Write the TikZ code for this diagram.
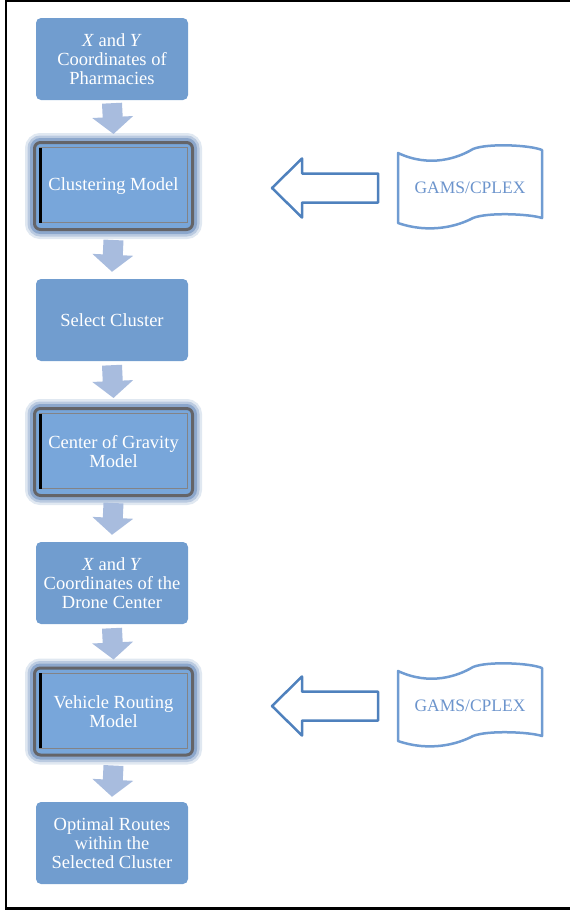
\documentclass[tikz,border=0pt]{standalone}
\usepackage{fontspec}
\setmainfont{Liberation Serif}
\usetikzlibrary{arrows.meta}

\definecolor{boxblue}{RGB}{113,157,207}
\definecolor{innerblue}{RGB}{120,166,218}
\definecolor{framegray}{RGB}{100,100,104}
\definecolor{glowblue}{RGB}{85,125,180}
\definecolor{arrowgray}{RGB}{168,188,222}
\definecolor{lineblue}{RGB}{79,129,189}
\definecolor{docblue}{RGB}{112,156,210}
\definecolor{gamsblue}{RGB}{108,148,204}

\tikzset{
  boxtext/.style={text=white, align=center, font=\fontsize{18.5}{19}\selectfont},
  plainbox/.style={boxtext, fill=boxblue, rounded corners=5pt,
    minimum width=152pt, minimum height=82pt, inner sep=2pt},
  modelbox/.style={boxtext, fill=innerblue, draw=framegray, line width=3pt,
    rounded corners=6pt, minimum width=158pt, minimum height=87pt, inner sep=2pt,
    preaction={draw=glowblue, line width=19pt, draw opacity=0.18},
    preaction={draw=glowblue, line width=14pt, draw opacity=0.28},
    preaction={draw=glowblue, line width=9pt, draw opacity=0.45},
    path picture={
      \draw[sharp corners, line width=1pt, framegray!80]
        ([shift={(5pt,-5pt)}]path picture bounding box.north west) rectangle
        ([shift={(-5pt,7pt)}]path picture bounding box.south east);
      \draw[line width=3pt, black]
        ([shift={(6pt,-5pt)}]path picture bounding box.north west) --
        ([shift={(6pt,7pt)}]path picture bounding box.south west);
    }},
  downarrow/.style={arrowgray, line width=20pt, -{Triangle[width=40pt,length=17pt]}},
  hollowarrow/.style={draw=lineblue, line width=2.5pt, line join=round},
  wavebox/.style={draw=docblue, line width=2.5pt, line join=round},
  gamstext/.style={text=gamsblue, font=\fontsize{17.5}{19}\selectfont}
}

\begin{document}
\begin{tikzpicture}[x=1pt,y=-1pt]
  \useasboundingbox (0,0) rectangle (570,910);
  \draw[line width=2.2pt] (590,1) -- (6,1) -- (6,908.5) -- (590,908.5);

  % main chain
  \node[plainbox] (coords) at (112,59) {\textit{X} and \textit{Y}\\Coordinates of\\Pharmacies};
  \node[modelbox] (cluster) at (113.5,186) {Clustering Model};
  \node[plainbox] (select) at (112,320) {Select Cluster};
  \node[modelbox] (gravity) at (113.5,452) {Center of Gravity\\Model};
  \node[plainbox] (drone) at (112,583) {\textit{X} and \textit{Y}\\Coordinates of the\\Drone Center};
  \node[modelbox] (routing) at (113.5,711.5) {Vehicle Routing\\Model};
  \node[plainbox] (routes) at (112,843) {Optimal Routes\\within the\\Selected Cluster};

  \draw[downarrow] ([yshift=-3pt]coords.south) -- ([yshift=7pt]cluster.north);
  \draw[downarrow] ([yshift=-9pt]cluster.south) -- ([yshift=7pt]select.north);
  \draw[downarrow] ([yshift=-4pt]select.south) -- ([yshift=9pt]gravity.north);
  \draw[downarrow] ([yshift=-6pt]gravity.south) -- ([yshift=7pt]drone.north);
  \draw[downarrow] ([yshift=-4pt]drone.south) -- ([yshift=7pt]routing.north);
  \draw[downarrow] ([yshift=-9pt]routing.south) -- ([yshift=5pt]routes.north);

  % solver inputs
  \foreach \n/\y in {1/188, 2/706} {
    \node[gamstext] (gams\n) at (470,\y) {GAMS/CPLEX};
    \draw[wavebox, shift={(gams\n.center)}] (-72,-35)
      .. controls (-40,-20) and (-12,-30) .. (3,-39)
      .. controls (18,-45) and (60,-43) .. (72,-38) -- (72,30)
      .. controls (60,26) and (18,24) .. (3,30)
      .. controls (-12,38) and (-40,46) .. (-72,35) -- cycle;
    \draw[hollowarrow, shift={(gams\n.center)}] (-92,-14.5) -- (-168,-14.5) -- (-168,-29.5)
      -- (-198,0) -- (-168,29.5) -- (-168,14.5) -- (-92,14.5) -- cycle;
  }
\end{tikzpicture}
\end{document}
